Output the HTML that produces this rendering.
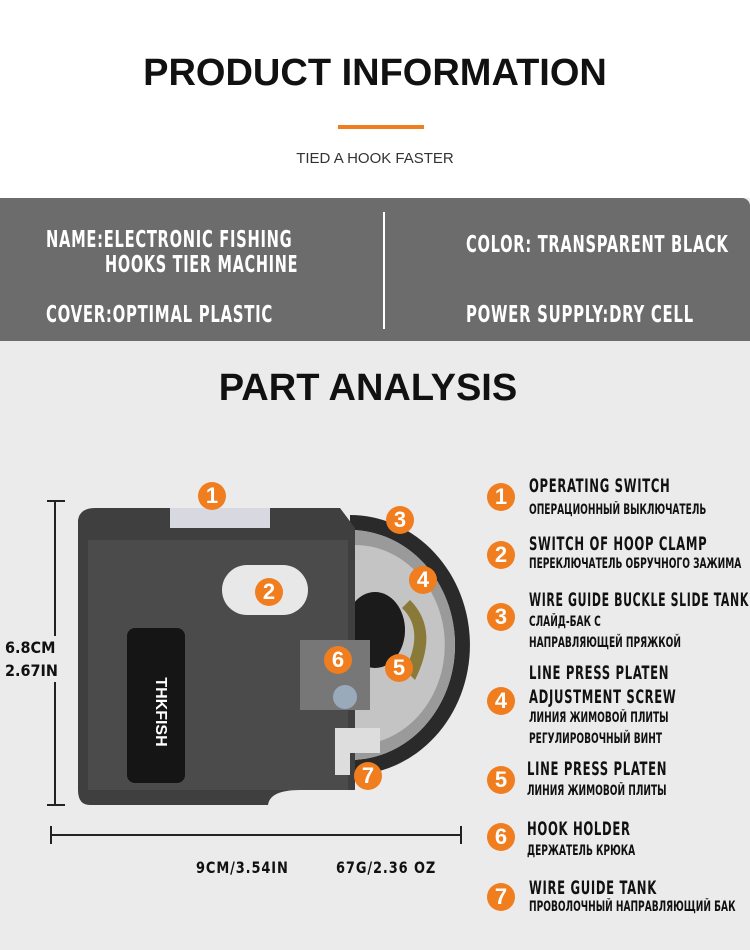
<!DOCTYPE html>
<html><head><meta charset="utf-8"><style>
*{margin:0;padding:0;box-sizing:border-box}
body{width:750px;height:950px;position:relative;overflow:hidden;background:#ebebeb;font-family:"Liberation Sans",sans-serif}
.a{position:absolute}
.n{font-family:"DejaVu Sans Condensed","Liberation Sans",sans-serif;font-weight:bold;white-space:nowrap;color:#111;transform:scaleX(0.72);transform-origin:0 0}
.c{position:absolute;width:28px;height:28px;border-radius:50%;background:#f07d1e;color:#fff;font:bold 22px/28px "Liberation Sans",sans-serif;text-align:center}
.t{font-size:19px;letter-spacing:1px;transform:scaleX(0.68)}
.r{font-size:14px}
</style></head><body>
<div class="a" style="left:0;top:0;width:750px;height:198px;background:#fff"></div>
<div class="a" style="left:0;top:52px;width:750px;text-align:center;font:bold 38px 'Liberation Sans',sans-serif;color:#111">PRODUCT INFORMATION</div>
<div class="a" style="left:338px;top:125px;width:86px;height:4px;background:#f07d1e"></div>
<div class="a" style="left:0;top:150px;width:750px;text-align:center;font:15px 'Liberation Sans',sans-serif;color:#333">TIED A HOOK FASTER</div>
<div class="a" style="left:0;top:198px;width:750px;height:143px;background:#6c6c6c;border-top-right-radius:8px"></div>
<div class="a" style="left:383px;top:212px;width:2px;height:117px;background:#fff"></div>
<div class="a n" style="left:46px;top:227px;color:#fff;font-size:23px;letter-spacing:1px;transform:scaleX(.71)">NAME:ELECTRONIC FISHING</div>
<div class="a n" style="left:105px;top:252px;color:#fff;font-size:23px;letter-spacing:1px;transform:scaleX(.7)">HOOKS TIER MACHINE</div>
<div class="a n" style="left:46px;top:302px;color:#fff;font-size:23px;letter-spacing:1px">COVER:OPTIMAL PLASTIC</div>
<div class="a n" style="left:466px;top:232px;color:#fff;font-size:23px;letter-spacing:1px;transform:scaleX(.709)">COLOR: TRANSPARENT BLACK</div>
<div class="a n" style="left:466px;top:302px;color:#fff;font-size:23px;letter-spacing:1px">POWER SUPPLY:DRY CELL</div>
<div class="a" style="left:0;top:367px;width:736px;text-align:center;font:bold 38px 'Liberation Sans',sans-serif;color:#111">PART ANALYSIS</div>

<!-- dims -->
<div class="a" style="left:54px;top:500px;width:2px;height:305px;background:#222"></div>
<div class="a" style="left:47px;top:500px;width:18px;height:2px;background:#222"></div>
<div class="a" style="left:47px;top:804px;width:18px;height:2px;background:#222"></div>
<div class="a n" style="left:5px;top:636px;font-size:16px;line-height:23px;background:#ebebeb;transform:none">6.8CM<br>2.67IN</div>
<div class="a" style="left:50px;top:834px;width:412px;height:2px;background:#222"></div>
<div class="a" style="left:50px;top:826px;width:2px;height:18px;background:#222"></div>
<div class="a" style="left:460px;top:826px;width:2px;height:18px;background:#222"></div>
<div class="a n" style="left:196px;top:858px;font-size:16px;letter-spacing:1px;transform:scaleX(.9)">9CM/3.54IN</div>
<div class="a n" style="left:336px;top:858px;font-size:16px;letter-spacing:1px;transform:scaleX(.9)">67G/2.36 OZ</div>

<!-- device -->
<svg class="a" style="left:0;top:0" width="750" height="950">
<path d="M350,515 A120,130 0 0 1 350,775 L350,760 A105,115 0 0 0 350,530Z" fill="#2a2a2a"/>
<path d="M350,530 A105,115 0 0 1 350,760Z" fill="#9a9a9a"/>
<path d="M355,545 A88,98 0 0 1 355,745Z" fill="#c4c4c4"/>
<ellipse cx="375" cy="630" rx="30" ry="38" fill="#1b1b1b"/>
<path d="M410,600 Q440,630 415,680 L405,670 Q425,630 402,608Z" fill="#8a7a3a"/>
<path d="M95,508 L340,508 L355,528 L355,790 L300,790 Q270,790 268,805 L90,805 Q78,805 78,790 L78,520 Q80,508 95,508Z" fill="#3f3f3f"/>
<rect x="88" y="540" width="260" height="250" fill="#545454" opacity=".6"/>
<rect x="170" y="508" width="100" height="20" fill="#d8d8e0"/>
<rect x="222" y="565" width="86" height="50" rx="25" fill="#e8e8e8"/>
<rect x="127" y="628" width="58" height="155" rx="8" fill="#151515"/>
<text x="163" y="705" transform="rotate(90 156 705)" fill="#fff" font-family="Liberation Sans" font-weight="bold" font-size="16" text-anchor="middle">THKFISH</text>
<rect x="300" y="640" width="70" height="70" fill="#777"/>
<circle cx="345" cy="697" r="12" fill="#9ab"/>
<rect x="335" y="728" width="45" height="25" fill="#ddd"/>
<rect x="335" y="745" width="15" height="30" fill="#ddd"/>
</svg>
<div class="c" style="left:198px;top:482px">1</div>
<div class="c" style="left:255px;top:578px">2</div>
<div class="c" style="left:386px;top:506px">3</div>
<div class="c" style="left:409px;top:566px">4</div>
<div class="c" style="left:385px;top:654px">5</div>
<div class="c" style="left:324px;top:646px">6</div>
<div class="c" style="left:354px;top:762px">7</div>

<!-- list -->
<div class="c" style="left:487px;top:483px">1</div>
<div class="a n t" style="left:529px;top:475px">OPERATING SWITCH</div>
<div class="a n r" style="left:529px;top:502px">ОПЕРАЦИОННЫЙ ВЫКЛЮЧАТЕЛЬ</div>
<div class="c" style="left:487px;top:541px">2</div>
<div class="a n t" style="left:529px;top:533px">SWITCH OF HOOP CLAMP</div>
<div class="a n r" style="left:529px;top:556px">ПЕРЕКЛЮЧАТЕЛЬ ОБРУЧНОГО ЗАЖИМА</div>
<div class="c" style="left:487px;top:603px">3</div>
<div class="a n t" style="left:529px;top:589px;transform:scaleX(.64)">WIRE GUIDE BUCKLE SLIDE TANK</div>
<div class="a n r" style="left:529px;top:612px;line-height:21px">СЛАЙД-БАК С<br>НАПРАВЛЯЮЩЕЙ ПРЯЖКОЙ</div>
<div class="c" style="left:487px;top:687px">4</div>
<div class="a n t" style="left:529px;top:661px;line-height:24px">LINE PRESS PLATEN<br>ADJUSTMENT SCREW</div>
<div class="a n r" style="left:529px;top:708px;line-height:21px">ЛИНИЯ ЖИМОВОЙ ПЛИТЫ<br>РЕГУЛИРОВОЧНЫЙ ВИНТ</div>
<div class="c" style="left:487px;top:766px">5</div>
<div class="a n t" style="left:527px;top:758px">LINE PRESS PLATEN</div>
<div class="a n r" style="left:527px;top:783px">ЛИНИЯ ЖИМОВОЙ ПЛИТЫ</div>
<div class="c" style="left:487px;top:823px">6</div>
<div class="a n t" style="left:527px;top:818px">HOOK HOLDER</div>
<div class="a n r" style="left:527px;top:843px">ДЕРЖАТЕЛЬ КРЮКА</div>
<div class="c" style="left:487px;top:883px">7</div>
<div class="a n t" style="left:529px;top:877px">WIRE GUIDE TANK</div>
<div class="a n r" style="left:529px;top:899px">ПРОВОЛОЧНЫЙ НАПРАВЛЯЮЩИЙ БАК</div>
</body></html>
